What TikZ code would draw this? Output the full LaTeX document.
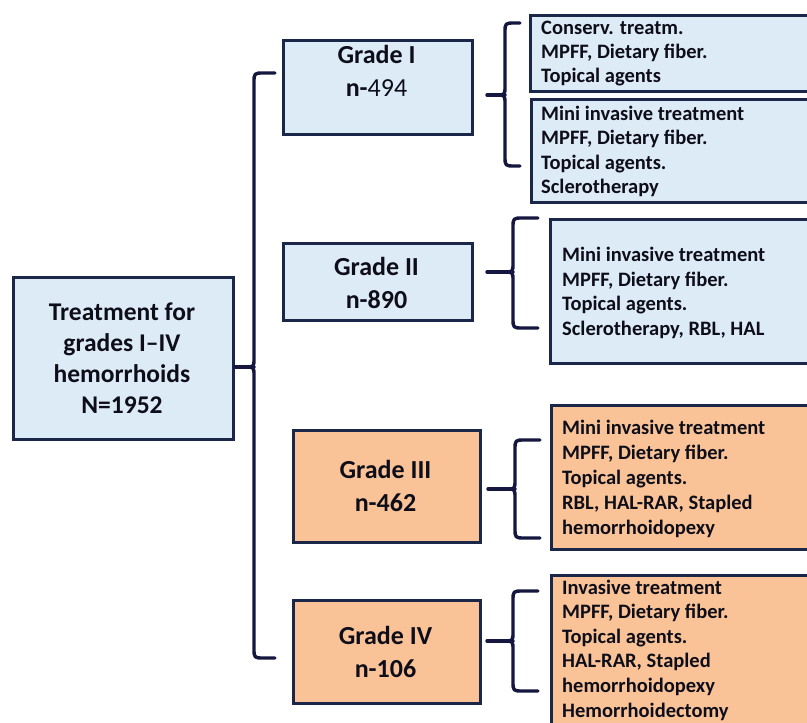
\documentclass[tikz,border=0pt]{standalone}
\usepackage{fontspec}
\setmainfont{Carlito}
\definecolor{bluefill}{HTML}{DDEBF7}
\definecolor{orangefill}{HTML}{FAC397}
\definecolor{boxline}{HTML}{1A2748}
\definecolor{braceline}{HTML}{15173F}
\definecolor{txt}{HTML}{0E0E1A}
\tikzset{
  box/.style={draw=boxline, line width=3pt, anchor=north west, inner sep=0pt},
  bluebox/.style={box, fill=bluefill},
  orangebox/.style={box, fill=orangefill},
  bigtxt/.style={font=\fontsize{25.5}{31}\selectfont\bfseries, text=txt, align=center, inner sep=0pt},
  gradetxt/.style={font=\fontsize{26}{33}\selectfont\bfseries, text=txt, align=center, inner sep=0pt},
  treattxt/.style={font=\fontsize{20.5}{24.5}\selectfont\bfseries, text=txt, align=left, inner sep=0pt, anchor=west},
  bracestyle/.style={draw=braceline, line width=3.4pt, line cap=round, line join=round},
}
% #1 xv, #2 ytop, #3 ybot, #4 xend, #5 ycusp, #6 cusp radius
\newcommand\bracepath[6]{%
  (#4,#2) -- ({#1+10},#2) .. controls (#1,#2) .. (#1,{#2+10}) -- (#1,{#5-#6}) .. controls (#1,#5) .. ({#1-#6},#5)
  .. controls (#1,#5) .. (#1,{#5+#6}) -- (#1,{#3-10}) .. controls (#1,#3) .. ({#1+10},#3) -- (#4,#3)}
\begin{document}
\begin{tikzpicture}[x=1pt,y=-1pt]
\clip (0,0) rectangle (807,723);
\fill[white] (0,0) rectangle (807,723);

% boxes
\node[bluebox, minimum width=220pt, minimum height=162pt] (main) at (12,276) {};
\node[bluebox, minimum width=189pt, minimum height=94pt] (g1) at (282,39) {};
\node[bluebox, minimum width=189pt, minimum height=77pt] (g2) at (282,242) {};
\node[orangebox, minimum width=187pt, minimum height=112pt] (g3) at (292,429) {};
\node[orangebox, minimum width=187pt, minimum height=103pt] (g4) at (292,599) {};
\node[bluebox, minimum width=300pt, minimum height=76pt] (t1a) at (529,14) {};
\node[bluebox, minimum width=300pt, minimum height=103pt] (t1b) at (530,98) {};
\node[bluebox, minimum width=280pt, minimum height=144pt] (t2) at (549,218) {};
\node[orangebox, minimum width=280pt, minimum height=144pt] (t3) at (550,404) {};
\node[orangebox, minimum width=280pt, minimum height=170pt] (t4) at (550,574) {};

% texts
\node[bigtxt] (maintxt) at (122,358.5) {Treatment for\\grades I--IV\\hemorrhoids\\N=1952};
\node[gradetxt] (g1txt) at (376.5,71) {Grade I\\n-{\mdseries 494}};
\node[gradetxt] (g2txt) at (376.5,282.5) {Grade II\\n-890};
\node[gradetxt] (g3txt) at (385.5,486) {Grade III\\n-462};
\node[gradetxt] (g4txt) at (385.5,652) {Grade IV\\n-106};
\node[treattxt, font=\fontsize{20.5}{24}\selectfont\bfseries] (t1atxt) at (541,54) {Conserv. treatm.\\MPFF, Dietary fiber.\\Topical agents};
\node[treattxt] (t1btxt) at (541,151.5) {Mini invasive treatment\\MPFF, Dietary fiber.\\Topical agents.\\Sclerotherapy};
\node[treattxt] (t2txt) at (562,293) {Mini invasive treatment\\MPFF, Dietary fiber.\\Topical agents.\\Sclerotherapy, RBL, HAL};
\node[treattxt, font=\fontsize{20.5}{25}\selectfont\bfseries] (t3txt) at (562,479) {Mini invasive treatment\\MPFF, Dietary fiber.\\Topical agents.\\RBL, HAL-RAR, Stapled\\hemorrhoidopexy};
\node[treattxt, font=\fontsize{20.5}{24.6}\selectfont\bfseries] (t4txt) at (562,650) {Invasive treatment\\MPFF, Dietary fiber.\\Topical agents.\\HAL-RAR, Stapled\\hemorrhoidopexy\\Hemorrhoidectomy};

% braces
\coordinate (c0) at (254,367);
\draw[bracestyle] \bracepath{254}{73}{658}{275}{367}{9};
\draw[bracestyle] (main.east |- c0) -- (c0);

\coordinate (c1) at (505,95);
\coordinate (s1) at (487,95);
\draw[bracestyle] \bracepath{505}{23}{166}{520}{95}{9};
\draw[bracestyle] (s1) -- (c1);

\coordinate (c2) at (513,272);
\coordinate (s2) at (487,272);
\draw[bracestyle] \bracepath{513}{218}{328}{538}{272}{9};
\draw[bracestyle] (s2) -- (c2);

\coordinate (c3) at (515,489);
\coordinate (s3) at (488,489);
\draw[bracestyle] \bracepath{515}{440}{538}{540}{489}{9};
\draw[bracestyle] (s3) -- (c3);

\coordinate (c4) at (513,641);
\coordinate (s4) at (487,641);
\draw[bracestyle] \bracepath{513}{591}{691}{538}{641}{9};
\draw[bracestyle] (s4) -- (c4);
\end{tikzpicture}
\end{document}
